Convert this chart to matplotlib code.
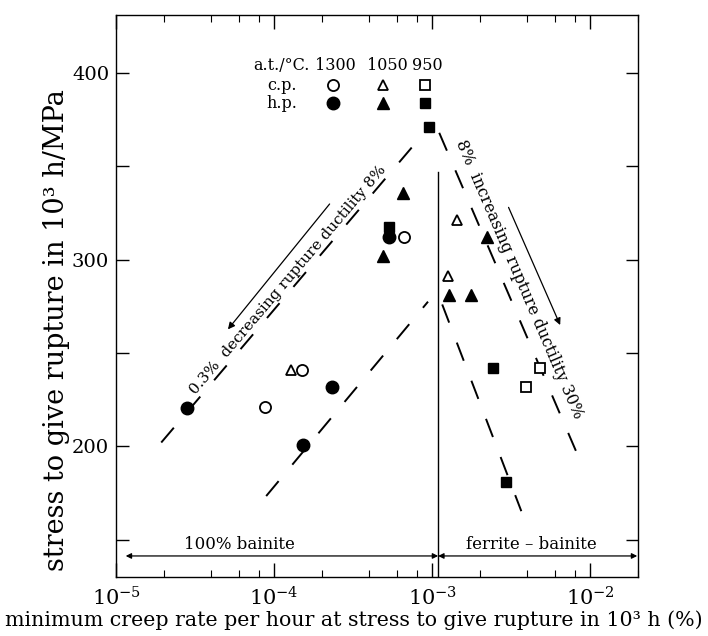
import matplotlib
matplotlib.use("Agg")
import matplotlib.pyplot as plt
from matplotlib.ticker import FixedLocator, LogLocator, NullFormatter

plt.rcParams['font.family'] = ['DejaVu Serif']
plt.rcParams['mathtext.fontset'] = 'dejavuserif'

# --- data (creep rate %/h, stress MPa) ---
# c.p. = open symbols, h.p. = filled symbols; a.t. 1300 / 1050 / 950 degC
cp_1300_x = [6.65e-4, 1.50e-4, 8.8e-5]
cp_1300_y = [312, 241, 221]
cp_1050_x = [1.28e-4, 1.44e-3, 1.26e-3]
cp_1050_y = [241, 321, 291]
cp_950_x = [4.83e-3, 3.94e-3]
cp_950_y = [242, 232]

hp_1300_x = [5.3e-4, 2.33e-4, 2.8e-5, 1.53e-4]
hp_1300_y = [312, 231.5, 220.5, 200.5]
hp_1050_x = [6.5e-4, 4.9e-4, 2.23e-3, 1.28e-3, 1.77e-3]
hp_1050_y = [336, 302, 312, 281, 281]
hp_950_x = [9.6e-4, 5.3e-4, 2.43e-3, 2.94e-3]
hp_950_y = [371, 317.5, 242, 181]

# dashed bounding lines (ductility bands)
band_left_upper_x = [1.93e-5, 9.0e-4]
band_left_upper_y = [202, 368.5]
band_left_lower_x = [8.9e-5, 9.4e-4]
band_left_lower_y = [173.3, 277.5]
band_right_upper_x = [1.107e-3, 8.28e-3]
band_right_upper_y = [368, 195.7]
band_right_lower_x = [1.156e-3, 3.66e-3]
band_right_lower_y = [276, 165.2]

# bainite / ferrite-bainite boundary
boundary_x = 1.09e-3
boundary_top = 347

x_ticks = [1e-5, 1e-4, 1e-3, 1e-2]
x_ticklabels = ['$10^{-5}$', '$10^{-4}$', '$10^{-3}$', '$10^{-2}$']
y_ticks = [200, 300, 400]
y_minor = [150, 250, 350]

fig = plt.figure(figsize=(7.08, 6.36), dpi=100)
ax = fig.add_axes([0.164, 0.093, 0.737, 0.883])

ax.set_xscale('log')
ax.set_xlim(1e-5, 2e-2)
ax.set_ylim(130, 431)

# dashed lines
dash = (10, 11)
for lx, ly in [(band_left_upper_x, band_left_upper_y),
               (band_left_lower_x, band_left_lower_y),
               (band_right_upper_x, band_right_upper_y),
               (band_right_lower_x, band_right_lower_y)]:
    ax.plot(lx, ly, color='black', lw=1.4, dashes=dash, solid_capstyle='butt')

ax.plot([boundary_x, boundary_x], [130, boundary_top], color='black', lw=1.0)

# points
ms = 8
open_kw = dict(linestyle='none', mfc='white', mec='black', mew=1.3)
fill_kw = dict(linestyle='none', color='black')
ax.plot(cp_1300_x, cp_1300_y, 'o', ms=ms, **open_kw)
ax.plot(cp_1050_x, cp_1050_y, '^', ms=ms - 1, **open_kw)
ax.plot(cp_950_x, cp_950_y, 's', ms=ms - 1.5, **open_kw)
ax.plot(hp_1300_x, hp_1300_y, 'o', ms=ms + 1, **fill_kw)
ax.plot(hp_1050_x, hp_1050_y, '^', ms=ms, **fill_kw)
ax.plot(hp_950_x, hp_950_y, 's', ms=ms - 1, **fill_kw)

# legend block
tr = ax.transAxes
lfs = 11.5
ax.text(0.317, 0.911, 'a.t./°C.', transform=tr, ha='center', va='center', fontsize=lfs)
for xp, lab in zip([0.420, 0.519, 0.596], ['1300', '1050', '950']):
    ax.text(xp, 0.911, lab, transform=tr, ha='center', va='center', fontsize=lfs)
ax.text(0.318, 0.875, 'c.p.', transform=tr, ha='center', va='center', fontsize=lfs)
ax.text(0.318, 0.843, 'h.p.', transform=tr, ha='center', va='center', fontsize=lfs)
ax.plot([0.416], [0.875], 'o', ms=ms, transform=tr, **open_kw)
ax.plot([0.511], [0.875], '^', ms=ms - 1, transform=tr, **open_kw)
ax.plot([0.592], [0.875], 's', ms=ms - 1.5, transform=tr, **open_kw)
ax.plot([0.416], [0.843], 'o', ms=ms + 1, transform=tr, **fill_kw)
ax.plot([0.511], [0.843], '^', ms=ms, transform=tr, **fill_kw)
ax.plot([0.592], [0.843], 's', ms=ms - 1, transform=tr, **fill_kw)

# band annotations
ax.text(1.23e-4, 289.3, '0.3%  decreasing rupture ductility 8%', rotation=49.7,
        rotation_mode='anchor', ha='center', va='center', fontsize=11)
ax.text(3.56e-3, 289.3, '8%  increasing rupture ductility 30%', rotation=-66.8,
        rotation_mode='anchor', ha='center', va='center', fontsize=11.5)
ax.annotate('', xy=(4.97e-5, 261.5), xytext=(2.30e-4, 331),
            arrowprops=dict(arrowstyle='-|>', color='black', lw=0.9, mutation_scale=10))
ax.annotate('', xy=(6.55e-3, 263.6), xytext=(2.99e-3, 329.4),
            arrowprops=dict(arrowstyle='-|>', color='black', lw=0.9, mutation_scale=10))

# microstructure ranges along the bottom
ax.annotate('', xy=(1.15e-5, 141.2), xytext=(boundary_x, 141.2),
            arrowprops=dict(arrowstyle='<|-|>', color='black', lw=0.9, mutation_scale=8,
                            shrinkA=0, shrinkB=0))
ax.annotate('', xy=(boundary_x, 141.2), xytext=(1.98e-2, 141.2),
            arrowprops=dict(arrowstyle='<|-|>', color='black', lw=0.9, mutation_scale=8,
                            shrinkA=0, shrinkB=0))
ax.text(6.0e-5, 147.6, '100% bainite', ha='center', va='center', fontsize=12)
ax.text(4.24e-3, 147.6, 'ferrite – bainite', ha='center', va='center', fontsize=12)

# axes / ticks
ax.xaxis.set_major_locator(FixedLocator(x_ticks))
ax.set_xticklabels(x_ticklabels)
ax.xaxis.set_minor_locator(LogLocator(base=10, subs=(2, 4, 6, 8), numticks=20))
ax.xaxis.set_minor_formatter(NullFormatter())
ax.yaxis.set_major_locator(FixedLocator(y_ticks))
ax.yaxis.set_minor_locator(FixedLocator(y_minor))
ax.tick_params(which='both', direction='in', top=True, right=True, labelsize=14)
ax.tick_params(axis='x', which='major', length=10, width=1.0, pad=7, labelsize=15)
ax.tick_params(axis='x', which='minor', length=5, width=0.8)
ax.tick_params(axis='y', which='both', length=9, width=1.0, pad=5)
for s in ax.spines.values():
    s.set_linewidth(1.0)

ax.set_xlabel('minimum creep rate per hour at stress to give rupture in 10³ h (%)',
              fontsize=14.8)
ax.xaxis.set_label_coords(0.456, -0.059)
ax.set_ylabel('stress to give rupture in 10³ h/MPa', fontsize=19.5)
ax.yaxis.set_label_coords(-0.088, 0.44)

fig.savefig('out.png', dpi=100)
